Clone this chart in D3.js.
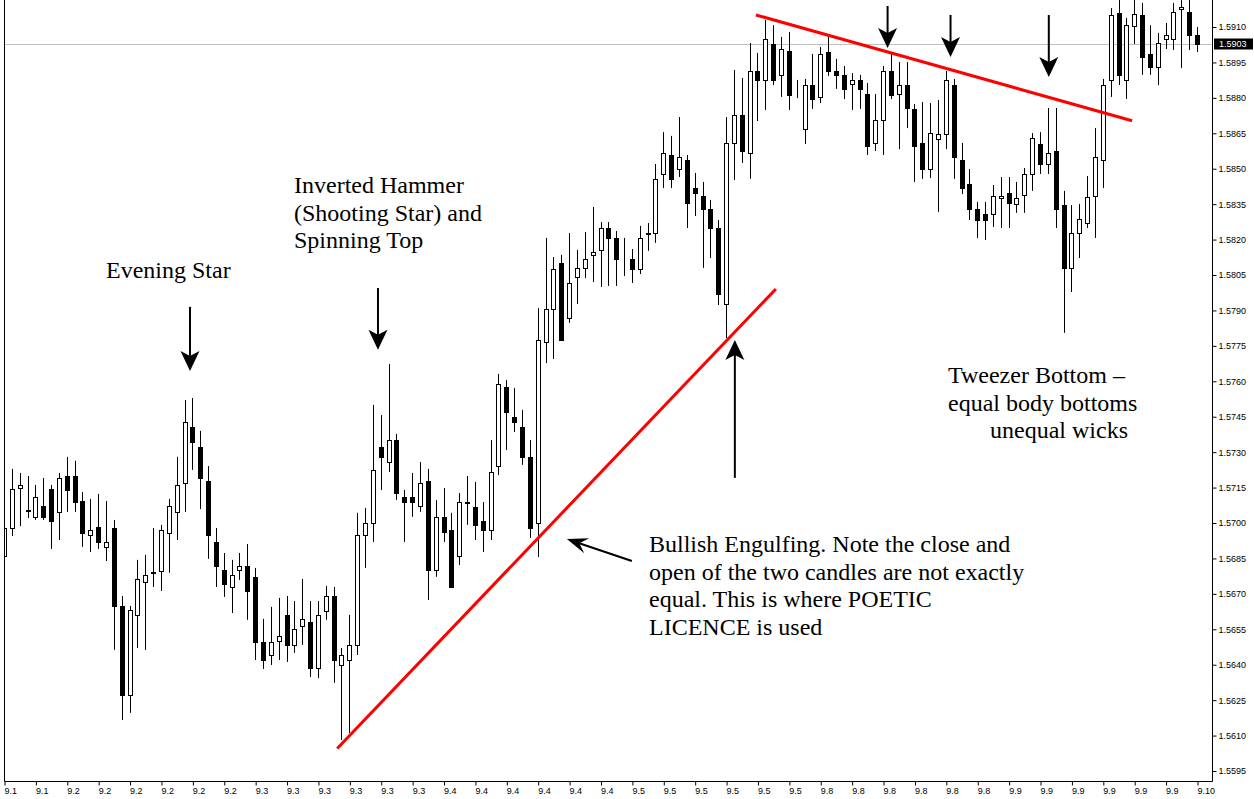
<!DOCTYPE html>
<html>
<head>
<meta charset="utf-8">
<script src="https://cdn.jsdelivr.net/npm/d3@7"></script>
<style>
body { margin: 0; background: #fff; }
svg { display: block; }
.ann { font-family: "Liberation Serif", "Times New Roman", serif; font-size: 24px; fill: #000; }
.axis text { font-family: "Liberation Sans", Arial, sans-serif; font-size: 9px; fill: #000; }
.axis line { stroke: #000; }
</style>
</head>
<body>
<svg id="chart" width="1254" height="799"></svg>
<script>

// candle data, one value per bar
var opens = [1.56860,1.56979,1.57148,1.57051,1.57026,1.57072,1.57144,1.57047,1.57199,1.57199,
1.57093,1.56949,1.56983,1.56899,1.56979,1.56649,1.56272,1.56611,1.56750,1.56789,
1.56797,1.56958,1.57047,1.57170,1.57407,1.57322,1.57178,1.56920,1.56801,1.56729,
1.56801,1.56818,1.56772,1.56496,1.56441,1.56501,1.56611,1.56484,1.56564,1.56581,
1.56386,1.56628,1.56691,1.56399,1.56420,1.56484,1.56949,1.57000,1.57322,1.57258,
1.57351,1.57110,1.57110,1.57072,1.57178,1.56801,1.57026,1.56971,1.56860,1.57085,
1.57068,1.57009,1.56971,1.57241,1.57576,1.57449,1.57407,1.57280,1.57000,1.57766,
1.57906,1.58101,1.57868,1.58042,1.58080,1.58135,1.58156,1.58249,1.58207,1.58116,
1.58118,1.58075,1.58224,1.58228,1.58478,1.58558,1.58499,1.58537,1.58418,1.58385,
1.58329,1.58249,1.57927,1.58609,1.58727,1.58567,1.58914,1.58876,1.59028,1.58897,
1.58998,1.58838,1.58668,1.58854,1.58804,1.58994,1.58914,1.58897,1.58859,1.58876,
1.58816,1.58609,1.58706,1.58914,1.58816,1.58854,1.58753,1.58609,1.58499,1.58626,
1.58647,1.58854,1.58537,1.58435,1.58329,1.58308,1.58308,1.58376,1.58397,1.58351,
1.58389,1.58478,1.58605,1.58520,1.58575,1.58346,1.58080,1.58228,1.58270,1.58385,
1.58537,1.58876,1.59159,1.58876,1.59104,1.59151,1.58986,1.58931,1.59049,1.59049,
1.59176,1.59164,1.59066];

var highs = [1.57127,1.57229,1.57212,1.57199,1.57161,1.57191,1.57161,1.57212,1.57280,1.57263,
1.57131,1.57102,1.57123,1.57093,1.57013,1.56691,1.56649,1.56844,1.56865,1.56979,
1.56992,1.57102,1.57280,1.57521,1.57529,1.57390,1.57241,1.56979,1.56873,1.56844,
1.56873,1.56911,1.56810,1.56594,1.56645,1.56683,1.56691,1.56670,1.56763,1.56670,
1.56670,1.56733,1.56729,1.56471,1.56611,1.57043,1.57064,1.57500,1.57457,1.57673,
1.57377,1.57140,1.57212,1.57258,1.57229,1.57097,1.57148,1.57043,1.57127,1.57199,
1.57174,1.57089,1.57351,1.57631,1.57605,1.57572,1.57479,1.57351,1.57910,1.58207,
1.58126,1.58135,1.58228,1.58156,1.58232,1.58338,1.58274,1.58274,1.58236,1.58207,
1.58160,1.58258,1.58270,1.58520,1.58655,1.58639,1.58719,1.58558,1.58482,1.58444,
1.58368,1.58283,1.58719,1.58918,1.58884,1.59032,1.58990,1.59130,1.59108,1.59058,
1.59079,1.58876,1.58880,1.58986,1.59015,1.59058,1.58965,1.58935,1.58905,1.58897,
1.58863,1.58816,1.58935,1.58986,1.58952,1.58952,1.58774,1.58782,1.58778,1.58791,
1.58914,1.58880,1.58609,1.58499,1.58359,1.58359,1.58431,1.58465,1.58465,1.58444,
1.58503,1.58651,1.58655,1.58757,1.58757,1.58406,1.58346,1.58351,1.58469,1.58672,
1.58880,1.59180,1.59214,1.59138,1.59214,1.59202,1.59108,1.59075,1.59117,1.59202,
1.59214,1.59214,1.59100];

var lows = [1.56839,1.56945,1.56987,1.57021,1.57013,1.57013,1.56890,1.56928,1.57047,1.57047,
1.56899,1.56877,1.56890,1.56839,1.56463,1.56166,1.56196,1.56471,1.56463,1.56729,
1.56712,1.56789,1.56928,1.57047,1.57225,1.57059,1.56848,1.56729,1.56687,1.56619,
1.56759,1.56590,1.56420,1.56382,1.56399,1.56420,1.56412,1.56450,1.56484,1.56348,
1.56344,1.56590,1.56323,1.56081,1.56111,1.56441,1.56810,1.56920,1.57140,1.57216,
1.57097,1.56920,1.57026,1.57047,1.56674,1.56772,1.56920,1.56793,1.56822,1.56992,
1.56928,1.56877,1.56928,1.57203,1.57309,1.57385,1.57246,1.56937,1.56856,1.57677,
1.57694,1.57817,1.57847,1.57927,1.58037,1.58020,1.57999,1.58004,1.58004,1.58046,
1.58016,1.58054,1.58152,1.58186,1.58418,1.58418,1.58465,1.58249,1.58300,1.58080,
1.58122,1.57923,1.57783,1.58452,1.58524,1.58457,1.58702,1.58749,1.58854,1.58804,
1.58749,1.58799,1.58605,1.58753,1.58778,1.58893,1.58838,1.58795,1.58749,1.58753,
1.58558,1.58575,1.58558,1.58795,1.58583,1.58672,1.58444,1.58457,1.58461,1.58317,
1.58583,1.58457,1.58393,1.58283,1.58207,1.58198,1.58253,1.58249,1.58249,1.58313,
1.58313,1.58406,1.58478,1.58478,1.58249,1.57805,1.57978,1.58122,1.58249,1.58207,
1.58418,1.58804,1.58854,1.58795,1.59028,1.58897,1.58897,1.58854,1.59007,1.59003,
1.58926,1.59003,1.58994];

var closes = [1.56979,1.57144,1.57161,1.57055,1.57110,1.57026,1.57009,1.57191,1.57140,1.57089,
1.56958,1.56971,1.56920,1.56920,1.56649,1.56272,1.56632,1.56763,1.56780,1.56793,
1.56971,1.57072,1.57161,1.57428,1.57343,1.57191,1.56949,1.56818,1.56742,1.56780,
1.56818,1.56712,1.56496,1.56420,1.56496,1.56522,1.56484,1.56551,1.56594,1.56386,
1.56611,1.56691,1.56420,1.56441,1.56484,1.56949,1.57000,1.57225,1.57280,1.57351,
1.57127,1.57089,1.57089,1.57170,1.56801,1.57026,1.56962,1.56729,1.57089,1.57089,
1.56992,1.56971,1.57216,1.57589,1.57470,1.57428,1.57280,1.56979,1.57775,1.57906,
1.58075,1.57775,1.58016,1.58080,1.58118,1.58147,1.58249,1.58207,1.58118,1.58116,
1.58075,1.58207,1.58228,1.58457,1.58567,1.58457,1.58550,1.58355,1.58397,1.58329,
1.58249,1.57970,1.58609,1.58727,1.58575,1.58914,1.58876,1.59049,1.58876,1.59007,
1.58812,1.58838,1.58854,1.58795,1.58986,1.58914,1.58897,1.58838,1.58876,1.58838,
1.58596,1.58706,1.58914,1.58812,1.58854,1.58757,1.58596,1.58499,1.58651,1.58647,
1.58876,1.58550,1.58418,1.58329,1.58283,1.58283,1.58385,1.58385,1.58355,1.58376,
1.58478,1.58630,1.58520,1.58567,1.58329,1.58080,1.58228,1.58287,1.58380,1.58550,
1.58854,1.59151,1.58897,1.59108,1.59155,1.58973,1.58931,1.59032,1.59066,1.59164,
1.59185,1.59066,1.59028];

// axis labels
var dayLabels = ["9.1","9.1","9.2","9.2","9.2","9.2","9.2","9.2","9.3","9.3","9.3","9.3","9.3",
"9.3","9.4","9.4","9.4","9.4","9.4","9.4","9.5","9.5","9.5","9.5","9.5","9.5","9.8","9.8",
"9.8","9.8","9.8","9.8","9.9","9.9","9.9","9.9","9.9","9.9","9.10"];
var priceTicks = [1.5595,1.5610,1.5625,1.5640,1.5655,1.5670,1.5685,1.5700,1.5715,1.5730,1.5745,
1.5760,1.5775,1.5790,1.5805,1.5820,1.5835,1.5850,1.5865,1.5880,1.5895,1.5910];
var lastPrice = 1.5903;

// trend lines and arrows, in (bar index, price)
var trendLines = [
    {i1: 42.33, p1: 1.56045, i2: 98.22, p2: 1.57991},
    {i1: 95.67, p1: 1.59151, i2: 143.6, p2: 1.58703}
];
var arrows = [
    {i1: 23.57, p1: 1.57915, i2: 23.57, p2: 1.57644},
    {i1: 47.52, p1: 1.57995, i2: 47.52, p2: 1.57733},
    {i1: 92.99, p1: 1.57191, i2: 92.99, p2: 1.57775},
    {i1: 79.87, p1: 1.56839, i2: 71.59, p2: 1.56932, thin: true},
    {i1: 112.45, p1: 1.59189, i2: 112.45, p2: 1.59011},
    {i1: 120.47, p1: 1.59151, i2: 120.47, p2: 1.58973},
    {i1: 132.99, p1: 1.59151, i2: 132.99, p2: 1.58888}
];
var notes = [
    {x: 106, y: 278, lines: ["Evening Star"]},
    {x: 294, y: 193, lines: ["Inverted Hammer", "(Shooting Star) and", "Spinning Top"]},
    {x: 649, y: 552, lines: ["Bullish Engulfing. Note the close and", "open of the two candles are not exactly",
        "equal. This is where POETIC", "LICENCE is used"]},
    {x: 948, y: 383, lines: ["Tweezer Bottom \u2013", "equal body bottoms"]},
    {x: 990, y: 438, lines: ["unequal wicks"]}
];

var left = 4, right = 1212, bottom = 781;

var svg = d3.select("#chart");

var x = d3.scaleLinear().domain([0, opens.length - 1]).range([5, 1198]);
var y = d3.scaleLinear().domain([1.5595, 1.5910]).range([771, 27]);

svg.append("defs").append("clipPath").attr("id", "plot")
  .append("rect").attr("x", left).attr("y", 0).attr("width", right - left).attr("height", bottom);

var plot = svg.append("g").attr("clip-path", "url(#plot)");

// current price line
plot.append("line")
    .attr("x1", left).attr("x2", right)
    .attr("y1", Math.round(y(lastPrice)) + 0.5).attr("y2", Math.round(y(lastPrice)) + 0.5)
    .attr("stroke", "#c0c0c0");

var candles = plot.selectAll(".candle")
    .data(opens.map(function(o, i) { return {i: i, o: o, h: highs[i], l: lows[i], c: closes[i]}; }))
  .enter().append("g")
    .attr("class", "candle");

candles.append("line")
    .attr("x1", function(d) { return Math.round(x(d.i)) - 0.5; })
    .attr("x2", function(d) { return Math.round(x(d.i)) - 0.5; })
    .attr("y1", function(d) { return y(d.h); })
    .attr("y2", function(d) { return y(d.l); })
    .attr("stroke", "#000");

candles.append("rect")
    .attr("x", function(d) { return Math.round(x(d.i)) - 2.5; })
    .attr("y", function(d) { return Math.round(y(Math.max(d.o, d.c))) + 0.5; })
    .attr("width", 4)
    .attr("height", function(d) { return Math.max(0, Math.round(y(Math.min(d.o, d.c))) - Math.round(y(Math.max(d.o, d.c)))); })
    .attr("fill", function(d) { return d.c > d.o ? "#fff" : "#000"; })
    .attr("stroke", "#000");

// trend lines
plot.selectAll(".trend")
    .data(trendLines)
  .enter().append("line")
    .attr("class", "trend")
    .attr("x1", function(d) { return x(d.i1); })
    .attr("y1", function(d) { return y(d.p1); })
    .attr("x2", function(d) { return x(d.i2); })
    .attr("y2", function(d) { return y(d.p2); })
    .attr("stroke", "#ff0000")
    .attr("stroke-width", 3);

// arrows
arrows.forEach(function(a) {
    var x1 = x(a.i1), y1 = y(a.p1), x2 = x(a.i2), y2 = y(a.p2);
    var dx = x2 - x1, dy = y2 - y1, len = Math.sqrt(dx * dx + dy * dy);
    var ux = dx / len, uy = dy / len, px = -uy, py = ux;
    var hl = a.thin ? 21 : 20, hw = a.thin ? 8 : 9.5, notch = a.thin ? 8 : 5;
    var bx = x2 - ux * hl, by = y2 - uy * hl;
    var nx = x2 - ux * (hl - notch), ny = y2 - uy * (hl - notch);
    svg.append("line")
        .attr("x1", x1).attr("y1", y1).attr("x2", nx).attr("y2", ny)
        .attr("stroke", "#000").attr("stroke-width", 2);
    svg.append("path")
        .attr("d", "M" + x2 + "," + y2 + "L" + (bx + px * hw) + "," + (by + py * hw) +
            "L" + nx + "," + ny + "L" + (bx - px * hw) + "," + (by - py * hw) + "Z")
        .attr("fill", "#000");
});

// notes
notes.forEach(function(n) {
    var t = svg.append("text").attr("class", "ann");
    n.lines.forEach(function(s, k) {
        t.append("tspan").attr("x", n.x).attr("y", n.y + k * 27.5).text(s);
    });
});

// frame
svg.append("path")
    .attr("d", "M" + (left + 0.5) + ",0V" + (bottom + 0.5) + "H" + (right + 0.5) + "V0")
    .attr("fill", "none")
    .attr("stroke", "#000");

// axes
var xAxis = d3.axisBottom(x)
    .tickValues(d3.range(0, opens.length, 4))
    .tickFormat(function(d, i) { return dayLabels[i]; })
    .tickSize(4)
    .tickPadding(2);

var gx = svg.append("g")
    .attr("class", "axis")
    .attr("transform", "translate(0," + (bottom + 0.5) + ")")
    .call(xAxis);
gx.select(".domain").remove();
gx.selectAll(".tick line").attr("transform", "translate(-0.5,0)");
gx.selectAll(".tick text").attr("text-anchor", "start").attr("x", -1);

var yAxis = d3.axisRight(y)
    .tickValues(priceTicks)
    .tickFormat(d3.format(".4f"))
    .tickSize(4)
    .tickPadding(2);

var gy = svg.append("g")
    .attr("class", "axis")
    .attr("transform", "translate(" + (right + 0.5) + ",0)")
    .call(yAxis);
gy.select(".domain").remove();

// last price marker
var lp = svg.append("g").attr("transform", "translate(" + (right + 2) + "," + Math.round(y(lastPrice)) + ")");
lp.append("rect").attr("x", 0).attr("y", -5.5).attr("width", 39).attr("height", 11).attr("fill", "#000");
lp.append("text")
    .attr("x", 5).attr("y", 0).attr("dy", "0.35em")
    .style("font-family", "Liberation Sans, Arial, sans-serif")
    .style("font-size", "9px")
    .attr("fill", "#fff")
    .text(d3.format(".4f")(lastPrice));

</script>
</body>
</html>
